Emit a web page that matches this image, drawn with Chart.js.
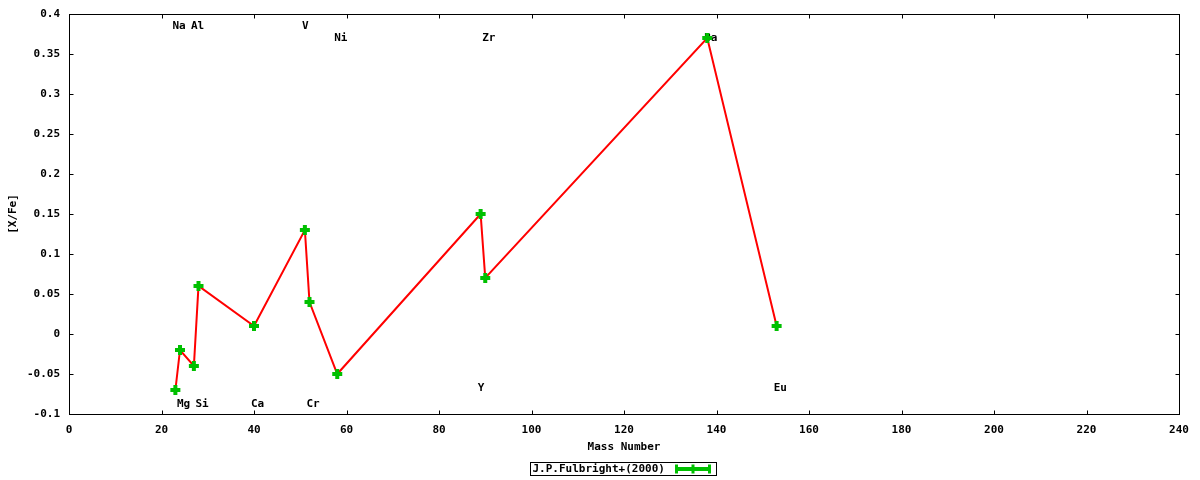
<!DOCTYPE html>
<html>
<head>
<meta charset="utf-8">
<script src="https://cdn.jsdelivr.net/npm/chart.js"></script>
<style>
  html, body { margin: 0; padding: 0; background: #fff; }
  #wrap { width: 1200px; height: 480px; }
</style>
</head>
<body>
<div id="wrap"><canvas id="chart" width="1200" height="480"></canvas></div>
<script>
// данные с картинки
const massNumbers = [23, 24, 27, 28, 40, 51, 52, 58, 89, 90, 138, 153];
const xFe = [-0.07, -0.02, -0.04, 0.06, 0.01, 0.13, 0.04, -0.05, 0.15, 0.07, 0.37, 0.01];

// подписи элементов
const elemNames = ["Na", "Mg", "Al", "Si", "Ca", "V", "Cr", "Ni", "Y", "Zr", "Ba", "Eu"];
const elemLabelY = [0.385, -0.0875, 0.385, -0.0875, -0.0875, 0.385, -0.0875, 0.37, -0.0675, 0.37, 0.37, -0.0675];

const seriesName = "J.P.Fulbright+(2000)";
const xTitle = "Mass Number";
const yTitle = "[X/Fe]";

const FONT = 'bold 11px "DejaVu Sans Mono"';
const GREEN = "#00c000";

// рамка, засечки внутрь, подписи осей, легенда
const gnuplotStyle = {
    id: "gnuplotStyle",
    beforeDatasetsDraw(chart) {
        const ctx = chart.ctx;
        const xs = chart.scales.x, ys = chart.scales.y;
        ctx.save();
        ctx.font = FONT;
        ctx.fillStyle = "#000";
        ctx.textAlign = "left";
        ctx.textBaseline = "middle";
        elemNames.forEach((name, i) => {
            ctx.fillText(name, xs.getPixelForValue(massNumbers[i]) - 3, ys.getPixelForValue(elemLabelY[i]));
        });
        ctx.restore();
    },
    afterDraw(chart) {
        const ctx = chart.ctx;
        const a = chart.chartArea;
        const xs = chart.scales.x, ys = chart.scales.y;
        const L = Math.round(a.left) + 0.5, R = Math.round(a.right) + 0.5;
        const T = Math.round(a.top) + 0.5, B = Math.round(a.bottom) + 0.5;
        ctx.save();
        ctx.strokeStyle = "#000";
        ctx.lineWidth = 1;
        ctx.strokeRect(L, T, R - L, B - T);
        ctx.beginPath();
        xs.ticks.forEach(t => {
            const px = Math.round(xs.getPixelForValue(t.value)) + 0.5;
            ctx.moveTo(px, B); ctx.lineTo(px, B - 4);
            ctx.moveTo(px, T); ctx.lineTo(px, T + 4);
        });
        ys.ticks.forEach(t => {
            const py = Math.round(ys.getPixelForValue(t.value)) + 0.5;
            ctx.moveTo(L, py); ctx.lineTo(L + 4, py);
            ctx.moveTo(R, py); ctx.lineTo(R - 4, py);
        });
        ctx.stroke();

        // подписи осей
        ctx.font = FONT;
        ctx.fillStyle = "#000";
        ctx.textAlign = "center";
        ctx.textBaseline = "middle";
        ctx.fillText(xTitle, (a.left + a.right) / 2, 447);
        ctx.save();
        ctx.translate(13, (a.top + a.bottom) / 2);
        ctx.rotate(-Math.PI / 2);
        ctx.fillText(yTitle, 0, 0);
        ctx.restore();

        // легенда
        const lx = 530.5, ly = 462.5, lw = 186, lh = 13;
        ctx.strokeRect(lx, ly, lw, lh);
        ctx.textAlign = "left";
        ctx.fillText(seriesName, lx + 2, ly + lh / 2 + 0.5);
        const sy = ly + lh / 2;
        ctx.strokeStyle = GREEN;
        ctx.lineWidth = 4;
        ctx.beginPath();
        ctx.moveTo(675, sy); ctx.lineTo(711, sy);
        ctx.stroke();
        ctx.lineWidth = 3;
        ctx.beginPath();
        ctx.moveTo(676.5, sy - 4.5); ctx.lineTo(676.5, sy + 4.5);
        ctx.moveTo(709.5, sy - 4.5); ctx.lineTo(709.5, sy + 4.5);
        ctx.moveTo(693, sy - 4.5); ctx.lineTo(693, sy + 4.5);
        ctx.stroke();
        ctx.restore();
    }
};

new Chart(document.getElementById("chart").getContext("2d"), {
    type: "line",
    data: {
        datasets: [{
            label: seriesName,
            data: massNumbers.map((m, i) => ({ x: m, y: xFe[i] })),
            borderColor: "#ff0000",
            borderWidth: 2,
            tension: 0,
            fill: false,
            pointStyle: "cross",
            pointRadius: 5,
            pointBorderWidth: 4,
            pointBorderColor: GREEN,
            pointBackgroundColor: GREEN,
            clip: false
        }]
    },
    options: {
        responsive: false,
        devicePixelRatio: 1,
        animation: false,
        layout: { padding: { left: 0, top: 14, right: 21, bottom: 0 } },
        plugins: {
            legend: { display: false },
            tooltip: { enabled: false }
        },
        scales: {
            x: {
                type: "linear",
                min: 0, max: 240,
                afterFit: s => { s.height = 66; },
                grid: { display: false },
                border: { display: false },
                ticks: {
                    stepSize: 20,
                    maxRotation: 0,
                    padding: 2,
                    color: "#000",
                    font: { family: "DejaVu Sans Mono", size: 11, weight: "bold" }
                }
            },
            y: {
                type: "linear",
                min: -0.1, max: 0.4,
                afterFit: s => { s.width = 69; },
                grid: { display: false },
                border: { display: false },
                ticks: {
                    stepSize: 0.05,
                    padding: 1,
                    color: "#000",
                    font: { family: "DejaVu Sans Mono", size: 11, weight: "bold" },
                    callback: v => String(+v.toFixed(2))
                }
            }
        }
    },
    plugins: [gnuplotStyle]
});
</script>
</body>
</html>
